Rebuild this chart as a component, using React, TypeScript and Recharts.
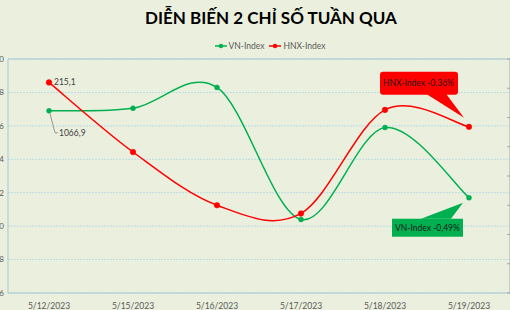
import { LineChart, Line, XAxis, YAxis, CartesianGrid, Legend, ReferenceLine } from 'recharts';

const dates = ['5/12/2023', '5/15/2023', '5/16/2023', '5/17/2023', '5/18/2023', '5/19/2023'];
const vnIndex = [1066.9, 1067.05, 1068.3, 1060.4, 1065.9, 1061.7];
const hnxIndex = [215.1, 213.91, 213.0, 212.86, 214.63, 214.34];
const vnTicks = [1056, 1058, 1060, 1062, 1064, 1066, 1068, 1070];
const hnxTicks = [211.5, 212, 212.5, 213, 213.5, 214, 214.5, 215, 215.5];
const seriesNames = ['VN-Index', 'HNX-Index'];
const vnChange = 'VN-Index -0,49%';
const hnxChange = 'HNX-Index -0,36%';

const data = dates.map((d, i) => ({ date: d, vn: vnIndex[i], hnx: hnxIndex[i] }));

const FONT = 'Lato, "DejaVu Sans", sans-serif';
const GREEN = '#00b050';
const RED = '#ff0000';
const BORDER = '#a7c7d4';
const BG = '#ebf0de';

// excel-like smoothed line (catmull-rom style bezier, 1/6 tension)
function excelCurve(context: any) {
  let pts: number[][] = [];
  return {
    areaStart() {},
    areaEnd() {},
    lineStart() {
      pts = [];
    },
    lineEnd() {
      const n = pts.length;
      if (!n) return;
      context.moveTo(pts[0][0], pts[0][1]);
      for (let i = 0; i < n - 1; i++) {
        const p0 = pts[i - 1] || pts[i];
        const p1 = pts[i];
        const p2 = pts[i + 1];
        const p3 = pts[i + 2] || p2;
        context.bezierCurveTo(
          p1[0] + (p2[0] - p0[0]) / 6,
          p1[1] + (p2[1] - p0[1]) / 6,
          p2[0] - (p3[0] - p1[0]) / 6,
          p2[1] - (p3[1] - p1[1]) / 6,
          p2[0],
          p2[1]
        );
      }
    },
    point(x: number, y: number) {
      pts.push([+x, +y]);
    },
  };
}

const fmt = (v: number) => v.toFixed(1).replace('.', ',');

const vnLabel = (props: any) => {
  const { x, y, index, value } = props;
  if (index === 0) {
    return (
      <g>
        <polyline points={`${x + 1},${y + 3} ${x + 6},${y + 22} ${x + 9},${y + 22}`} fill="none" stroke="#7f7f7f" strokeWidth={0.8} />
        <text x={x + 10} y={y + 25} fontSize={8.5} fill="#404040" fontFamily={FONT}>
          {fmt(value)}
        </text>
      </g>
    );
  }
  if (index === dates.length - 1) {
    return (
      <g>
        <polygon points={`${x - 48},${y + 21} ${x - 18},${y + 21} ${x - 6},${y + 5}`} fill={GREEN} />
        <rect x={x - 77} y={y + 21} width={71} height={18} fill={GREEN} />
        <text x={x - 41.5} y={y + 33} fontSize={8.5} textAnchor="middle" fill="#1a1a1a" fontFamily={FONT}>
          {vnChange}
        </text>
      </g>
    );
  }
  return null;
};

const hnxLabel = (props: any) => {
  const { x, y, index, value } = props;
  if (index === 0) {
    return (
      <text x={x + 5} y={y + 3} fontSize={8.5} fill="#404040" fontFamily={FONT}>
        {fmt(value)}
      </text>
    );
  }
  if (index === dates.length - 1) {
    return (
      <g>
        <polygon points={`${x - 43},${y - 33} ${x - 23},${y - 33} ${x - 5},${y - 9}`} fill={RED} />
        <rect x={x - 89} y={y - 55} width={78} height={23} rx={3} fill={RED} />
        <text x={x - 50.5} y={y - 41} fontSize={8.5} textAnchor="middle" fill="#1a1a1a" fontFamily={FONT}>
          {hnxChange}
        </text>
      </g>
    );
  }
  return null;
};

const renderLegend = (props: any) => {
  const items = [...(props.payload || [])].sort(
    (a: any, b: any) => seriesNames.indexOf(a.value) - seriesNames.indexOf(b.value)
  );
  return (
    <div style={{ display: 'flex', justifyContent: 'center', gap: 5, fontSize: 8.5, color: '#595959', fontFamily: FONT, lineHeight: '12px' }}>
      {items.map((p: any) => (
        <span key={p.value} style={{ display: 'flex', alignItems: 'center', gap: 2 }}>
          <svg width={12} height={6}>
            <line x1={0} y1={3} x2={12} y2={3} stroke={p.color} strokeWidth={1.5} />
            <circle cx={6} cy={3} r={2.2} fill={p.color} />
          </svg>
          {p.value}
        </span>
      ))}
    </div>
  );
};

const noTick = () => <g />;

export default function App() {
  return (
    <div style={{ position: 'absolute', left: 0, top: 0, width: 510, height: 310, background: BG, overflow: 'hidden' }}>
      <div style={{ position: 'absolute', left: 0, top: 7, width: 542, textAlign: 'center', fontFamily: FONT, fontWeight: 700, fontSize: 17, color: '#000' }}>
        DIỄN BIẾN 2 CHỈ SỐ TUẦN QUA
      </div>
      <LineChart width={510} height={310} data={data} margin={{ top: 59, right: 0, bottom: 0, left: 0 }}>
        <CartesianGrid yAxisId="left" vertical={false} stroke="#b9dde6" strokeDasharray="2 1" />
        <XAxis
          dataKey="date"
          height={17}
          padding={{ left: 41, right: 41 }}
          tickLine={false}
          axisLine={{ stroke: BORDER }}
          tick={{ fontSize: 8.5, fill: '#595959', fontFamily: FONT }}
          tickMargin={4}
          interval={0}
        />
        <YAxis
          yAxisId="left"
          width={8}
          domain={[1056, 1070]}
          ticks={vnTicks}
          tickLine={false}
          tickSize={0}
          tickMargin={4}
          axisLine={{ stroke: BORDER }}
          tick={{ fontSize: 8, fill: '#595959', fontFamily: FONT }}
        />
        <YAxis
          yAxisId="right"
          orientation="right"
          mirror
          width={5}
          domain={[211.5, 215.5]}
          ticks={hnxTicks}
          tickSize={3}
          tickLine={{ stroke: '#a6a6a6' }}
          axisLine={{ stroke: '#a6a6a6' }}
          tick={noTick}
        />
        <ReferenceLine yAxisId="left" y={1070} stroke={BORDER} />
        <Legend
          layout="horizontal"
          verticalAlign="middle"
          align="center"
          content={renderLegend}
          wrapperStyle={{ top: 40, left: 15, width: 510, height: 12 }}
        />
        <Line
          yAxisId="left"
          name="VN-Index"
          dataKey="vn"
          type={excelCurve as any}
          stroke={GREEN}
          strokeWidth={1.5}
          dot={{ r: 2.5, fill: GREEN, stroke: GREEN, strokeWidth: 0.5 }}
          activeDot={false}
          label={vnLabel}
          isAnimationActive={false}
        />
        <Line
          yAxisId="right"
          name="HNX-Index"
          dataKey="hnx"
          type={excelCurve as any}
          stroke={RED}
          strokeWidth={1.5}
          dot={{ r: 2.8, fill: RED, stroke: RED, strokeWidth: 0.5 }}
          activeDot={false}
          label={hnxLabel}
          isAnimationActive={false}
        />
      </LineChart>
    </div>
  );
}
